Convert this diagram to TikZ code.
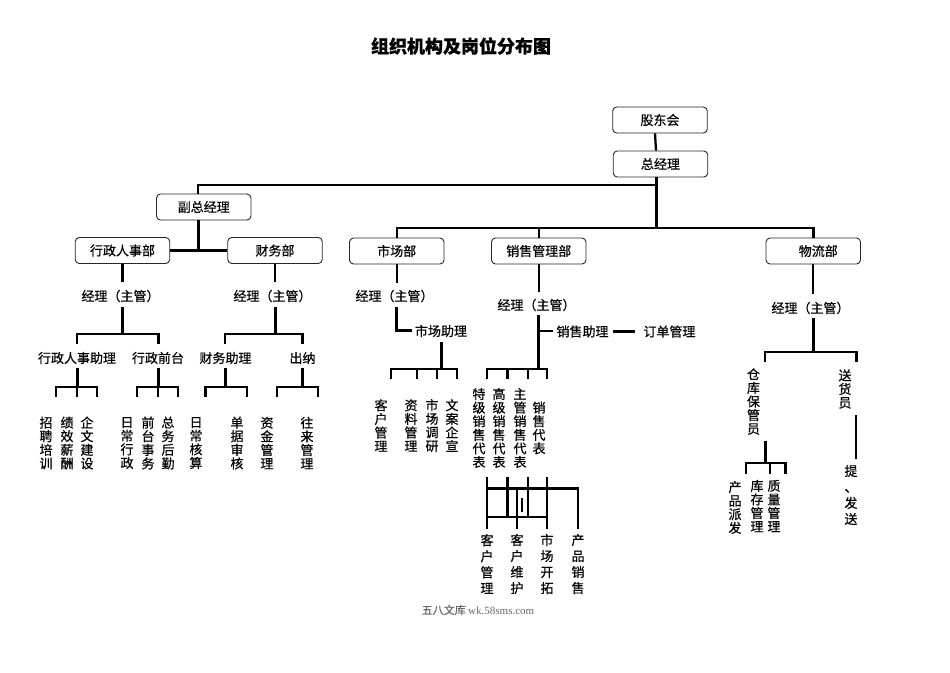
\documentclass[tikz,border=0pt]{standalone}
\usepackage{fontspec}
\setmainfont{Noto Sans CJK SC}[FakeBold=0.5]
\newfontfamily\footerfont{Liberation Serif}
\usetikzlibrary{positioning}

\begin{document}
\begin{tikzpicture}[x=1pt,y=-1pt]

    \tikzstyle{commonNode}=[font=\fontsize{13}{15}\selectfont, align=center, inner sep=0pt]
    \tikzstyle{box}=[commonNode, rectangle, rounded corners=4pt, draw=black!85, line width=0.9pt, minimum width=94.5pt, minimum height=26pt]
    \tikzstyle{label}=[commonNode]
    \tikzstyle{vlabel}=[commonNode, font=\fontsize{13}{13.6}\selectfont]
    \tikzstyle{vlabelWide}=[commonNode, font=\fontsize{13}{16}\selectfont]
    \tikzstyle{link}=[line width=2.3pt, draw=black]
    \tikzstyle{stem}=[line width=3pt, draw=black]

    \useasboundingbox (0,0) rectangle (950,672);

    % Title
    \node at (461,46) [font=\fontsize{18}{20}\selectfont\bfseries, inner sep=0pt] (title) {组织机构及岗位分布图};

    % Top boxes
    \node at (660,120) [box] (board) {股东会};
    \node at (660.5,164) [box] (ceo) {总经理};
    \node at (203.75,207) [box] (vp) {副总经理};
    \node at (122.5,250.5) [box] (hr) {行政人事部};
    \node at (275,250.5) [box] (fin) {财务部};
    \node at (396.75,251) [box] (mkt) {市场部};
    \node at (538.75,251) [box] (sales) {销售管理部};
    \node at (813.25,251) [box] (log) {\hspace*{10pt}物流部};

    % Managers and assistants
    \node at (120.5,296) [label] (hrMgr) {经理（主管）};
    \node at (272.5,296) [label] (finMgr) {经理（主管）};
    \node at (394.5,296) [label] (mktMgr) {经理（主管）};
    \node at (536.5,305) [label] (salesMgr) {经理（主管）};
    \node at (810.5,308) [label] (logMgr) {经理（主管）};
    \node at (77,358) [label] (hrAsst) {行政人事助理};
    \node at (158,358) [label] (front) {行政前台};
    \node at (225.5,358) [label] (finAsst) {财务助理};
    \node at (302.5,358) [label] (cashier) {出纳};
    \node at (441,331) [label] (mktAsst) {市场助理};
    \node at (582.5,331.5) [label] (salesAsst) {销售助理};
    \node at (669.5,331.5) [label] (order) {订单管理};

    % Left leaves
    \node at (46,443) [vlabel] (recruit) {招\\聘\\培\\训};
    \node at (67,443) [vlabel] (pay) {绩\\效\\薪\\酬};
    \node at (87,443) [vlabel] (culture) {企\\文\\建\\设};
    \node at (127,443) [vlabel] (daily) {日\\常\\行\\政};
    \node at (148,443) [vlabel] (desk) {前\\台\\事\\务};
    \node at (168,443) [vlabel] (logistics) {总\\务\\后\\勤};
    \node at (196,443) [vlabel] (acct) {日\\常\\核\\算};
    \node at (237,443) [vlabel] (audit) {单\\据\\审\\核};
    \node at (267,443) [vlabel] (funds) {资\\金\\管\\理};
    \node at (307,443) [vlabel] (ledger) {往\\来\\管\\理};

    % Market leaves
    \node at (381,425.5) [vlabel] (custMgmt) {客\\户\\管\\理};
    \node at (411,425.5) [vlabel] (data) {资\\料\\管\\理};
    \node at (432,425.5) [vlabel] (survey) {市\\场\\调\\研};
    \node at (452,425.5) [vlabel] (promo) {文\\案\\企\\宣};

    % Sales leaves
    \node at (479,428) [vlabel] (rep1) {特\\级\\销\\售\\代\\表};
    \node at (499,428) [vlabel] (rep2) {高\\级\\销\\售\\代\\表};
    \node at (520,428) [vlabel] (rep3) {主\\管\\销\\售\\代\\表};
    \node at (539,428) [vlabel] (rep4) {销\\售\\代\\表};
    \node at (487,564) [vlabelWide] (duty1) {客\\户\\管\\理};
    \node at (517,564) [vlabelWide] (duty2) {客\\户\\维\\护};
    \node at (547,564) [vlabelWide] (duty3) {市\\场\\开\\拓};
    \node at (578,564) [vlabelWide] (duty4) {产\\品\\销\\售};

    % Logistics leaves
    \node at (753.5,401.5) [vlabel] (store) {仓\\库\\保\\管\\员};
    \node at (845,389) [vlabel] (courier) {送\\货\\员};
    \node at (735,507.5) [vlabel] (dispatch) {产\\品\\派\\发};
    \node at (757,506) [vlabel] (stock) {库\\存\\管\\理};
    \node at (774,506) [vlabel] (quality) {质\\量\\管\\理};
    \node at (851,495) [vlabelWide] (deliver) {提\\、\\发\\送};

    % Footer
    \node at (478,610) [font=\fontsize{11}{13}\selectfont, text=black!60, inner sep=0pt] (footer) {五八文库 {\footerfont wk.58sms.com}};

    % Junctions
    \coordinate (vpBus) at (656,185);
    \coordinate (deptBus) at (656,228);
    \coordinate (vpJoin) at (198,250);
    \coordinate (hrIn) at (122.5,282);
    \coordinate (hrOut) at (122.5,307);
    \coordinate (hrBus) at (122.5,334);
    \coordinate (hrL) at (77,344);
    \coordinate (hrR) at (158.5,344);
    \coordinate (finIn) at (275,282);
    \coordinate (finOut) at (275,307);
    \coordinate (finBus) at (275,334);
    \coordinate (finL) at (225,344);
    \coordinate (finR) at (302.5,344);

    \coordinate (a1) at (77,368);
    \coordinate (a1Bus) at (77,387);
    \coordinate (a1L) at (56,397);
    \coordinate (a1R) at (97,397);
    \coordinate (a2) at (158,368);
    \coordinate (a2Bus) at (158,387);
    \coordinate (a2L) at (137,397);
    \coordinate (a2R) at (178,397);
    \coordinate (a3) at (225,368);
    \coordinate (a3Bus) at (225,387);
    \coordinate (a3L) at (205.5,397);
    \coordinate (a3R) at (247,397);
    \coordinate (a4) at (302.5,368);
    \coordinate (a4Bus) at (302.5,387);
    \coordinate (a4L) at (277,397);
    \coordinate (a4R) at (318,397);

    \coordinate (mktIn) at (396.75,283);
    \coordinate (mktOut) at (396.75,307);
    \coordinate (mktTurn) at (396.75,330);
    \coordinate (mktEnd) at (412,330);
    \coordinate (mktAsstOut) at (441,342);
    \coordinate (mktBus) at (441,369);
    \coordinate (mktL) at (391,379);
    \coordinate (mktR) at (457,379);
    \coordinate (mktD1) at (416.7,379);
    \coordinate (mktD2) at (437,379);

    \coordinate (salesIn) at (538.75,292);
    \coordinate (salesOut) at (538.75,315);
    \coordinate (salesBus) at (538.75,369);
    \coordinate (salesJoin) at (538.75,331);
    \coordinate (salesEnd) at (553,331);
    \coordinate (orderIn) at (613,331);
    \coordinate (orderEnd) at (635,331);
    \coordinate (salesL) at (487,379);
    \coordinate (salesR) at (547,379);
    \coordinate (salesD1) at (507.5,379);
    \coordinate (salesD2) at (528,379);

    \coordinate (g1) at (487,477);
    \coordinate (g2) at (507.5,477);
    \coordinate (g3) at (528,477);
    \coordinate (g4) at (547,477);
    \coordinate (g1End) at (487,529);
    \coordinate (g2End) at (507.5,517);
    \coordinate (g3End) at (528,517);
    \coordinate (g4End) at (547,529);
    \coordinate (gTopL) at (487,488.5);
    \coordinate (gTopR) at (578,488.5);
    \coordinate (gTopEnd) at (578,529);
    \coordinate (gLowL) at (487,517);
    \coordinate (gLowR) at (547,517);
    \coordinate (gMid) at (517,488.5);
    \coordinate (gMidEnd) at (517,529);
    \coordinate (tickA) at (522,498);
    \coordinate (tickB) at (522,512);

    \coordinate (logIn) at (813.25,294);
    \coordinate (logOut) at (813.25,318);
    \coordinate (logBus) at (813.25,352);
    \coordinate (logL) at (765,362);
    \coordinate (logR) at (856.5,362);
    \coordinate (courierA) at (856,415);
    \coordinate (courierB) at (856,459);
    \coordinate (storeOut) at (765,441);
    \coordinate (storeBus) at (765,463);
    \coordinate (storeL) at (746,474);
    \coordinate (storeR) at (785.5,474);
    \coordinate (storeD) at (770,474);

    % Connectors, top
    \draw[link] ([xshift=-5pt]board.south) -- ([xshift=-4.5pt]ceo.north);
    \draw[stem] ([xshift=-4.5pt]ceo.south) -- (deptBus);
    \draw[link, line width=2.5pt] ([xshift=-5.75pt]vp.north) |- (vpBus);
    \draw[stem] ([xshift=-5.75pt]vp.south) -- (vpJoin);
    \draw[link] (hr.east) -- (fin.west);
    \draw[link, line width=2.5pt] (mkt.north) |- (deptBus) -| (log.north);
    \draw[link] (sales.north) -- (sales.north |- deptBus);

    % Connectors, left departments
    \draw[link] (hr) -- (hrIn);
    \draw[stem] (hrOut) -- (hrBus);
    \draw[link] (hrL) |- (hrBus) -| (hrR);
    \draw[link] (fin) -- (finIn);
    \draw[stem] (finOut) -- (finBus);
    \draw[link] (finL) |- (finBus) -| (finR);
    \draw[stem] (a1) -- (a1Bus);
    \draw[link] (a1L) |- (a1Bus) -| (a1R);
    \draw[link] (a1Bus) -- (a1Bus |- a1L);
    \draw[stem] (a2) -- (a2Bus);
    \draw[link] (a2L) |- (a2Bus) -| (a2R);
    \draw[link] (a2Bus) -- (a2Bus |- a2L);
    \draw[stem] (a3) -- (a3Bus);
    \draw[link] (a3L) |- (a3Bus) -| (a3R);
    \draw[stem] (a4) -- (a4Bus);
    \draw[link] (a4L) |- (a4Bus) -| (a4R);

    % Connectors, market
    \draw[link] (mkt) -- (mktIn);
    \draw[stem] (mktOut) -- (mktTurn) -- (mktEnd);
    \draw[stem] (mktAsstOut) -- (mktBus);
    \draw[link] (mktL) |- (mktBus) -| (mktR);
    \draw[link] (mktD1) -- (mktD1 |- mktBus);
    \draw[link] (mktD2) -- (mktD2 |- mktBus);

    % Connectors, sales
    \draw[link] (sales) -- (salesIn);
    \draw[stem] (salesOut) -- (salesBus);
    \draw[link] (salesJoin) -- (salesEnd);
    \draw[stem] (orderIn) -- (orderEnd);
    \draw[link] (salesL) |- (salesBus) -| (salesR);
    \draw[link] (salesD1) -- (salesD1 |- salesBus);
    \draw[link] (salesD2) -- (salesD2 |- salesBus);
    \draw[link] (g1) -- (g1End);
    \draw[link] (g2) -- (g2End);
    \draw[link] (g3) -- (g3End);
    \draw[link] (g4) -- (g4End);
    \draw[link] (gTopL) -- (gTopR) -- (gTopEnd);
    \draw[link] (gLowL) -- (gLowR);
    \draw[link] (gMid) -- (gMidEnd);
    \draw[link] (tickA) -- (tickB);

    % Connectors, logistics
    \draw[link] (log) -- (logIn);
    \draw[stem] (logOut) -- (logBus);
    \draw[link] (logL) |- (logBus) -| (logR);
    \draw[link] (courierA) -- (courierB);
    \draw[stem] (storeOut) -- (storeBus);
    \draw[link] (storeL) |- (storeBus) -| (storeR);
    \draw[link] (storeD) -- (storeD |- storeBus);

\end{tikzpicture}
\end{document}
